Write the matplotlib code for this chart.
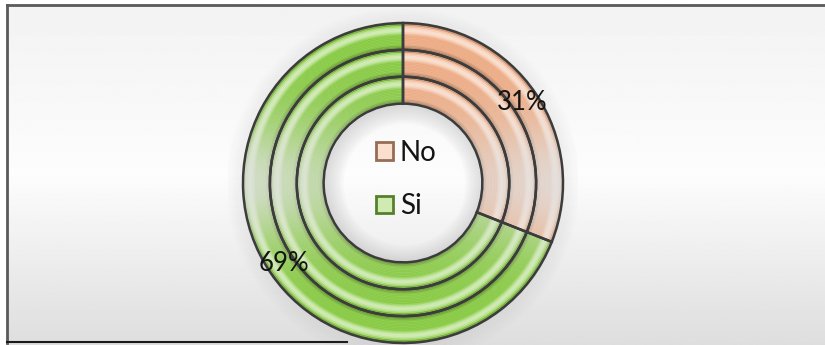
import numpy as np
import matplotlib.pyplot as plt
from matplotlib.patches import Wedge, Patch
from matplotlib.colors import to_rgb

labels = ['No', 'Si']
ring_values = [[31, 69], [31, 69], [31, 69]]   # outer, middle, inner ring
pct_labels = ['31%', '69%']

no_color = '#F2B088'
si_color = '#8CCF46'

W, H = 825, 345
fig = plt.figure(figsize=(W / 100, H / 100), dpi=100)

# background panel with a soft vertical gradient
bg = fig.add_axes([0, 0, 1, 1])
bg.set_xlim(0, W)
bg.set_ylim(H, 0)
bg.axis('off')
yy = np.linspace(0, 1, 200)[:, None]
grad = np.where(yy < 0.5, 0.95 + 0.04 * (yy / 0.5), 0.99 - 0.12 * ((yy - 0.5) / 0.5))
img = np.repeat(grad, 2, axis=1)
bg.imshow(img, cmap='gray', vmin=0, vmax=1, extent=[7, W, H, 5], aspect='auto')
bg.plot([7, W], [5, 5], color='#5a5a5a', lw=2)
bg.plot([7, 7], [5, H - 2], color='#5a5a5a', lw=2)
bg.plot([7, 347], [H - 3, H - 3], color='#1a1a1a', lw=1.5)

# donut axes: 1 data unit = 160 px, centred at (403, 183)
cx, cy, R = 403, 183, 160.0
half = 175
ax = fig.add_axes([(cx - half) / W, (H - cy - half) / H, 2 * half / W, 2 * half / H])

# soft drop shadow around the rings and inside the hole
for k in range(10):
    ax.add_patch(Wedge((0.0, -0.01), 1.0 + 0.012 * k, 0, 360, width=0.02,
                       color='#7a7a7a', alpha=0.07 * (1 - k / 10), lw=0, zorder=0))
    ax.add_patch(Wedge((0.01, -0.01), 0.5, 0, 360, width=0.012 * (k + 1),
                       color='#909090', alpha=0.03, lw=0, zorder=0))


def shade(color, t):
    c = np.array(to_rgb(color))
    if t < 0.1:
        return tuple(c * (0.62 + 0.3 * t / 0.1))
    if t < 0.45:
        m = 0.6 * np.sin(np.pi * (t - 0.1) / 0.35)
        return tuple(c + (1 - c) * m)
    if t < 0.85:
        return tuple(c * 0.98)
    return tuple(c * (0.9 - 0.25 * (t - 0.85) / 0.15))


outer_r = [1.0, 0.832, 0.664]
ring_w = 0.168
layers = 18
for vals, r0 in zip(ring_values, outer_r):
    for k in range(layers):
        t = (k + 0.5) / layers
        ax.pie(vals, radius=r0 - k * ring_w / layers, startangle=90, counterclock=False,
               colors=[shade(no_color, t), shade(si_color, t)],
               wedgeprops=dict(width=ring_w / layers + 0.002, linewidth=0))

# pale reflection across the middle height of the rings
ext = np.linspace(-1.05, 1.05, 300)
gx, gy = np.meshgrid(ext, ext[::-1])
alpha = 0.85 * np.exp(-(gy / 0.4) ** 2) * (0.5 + 0.5 * np.abs(gx))
glow = np.zeros(gx.shape + (4,))
glow[..., :3] = 0.88
glow[..., 3] = alpha
ann = Wedge((0, 0), 1.0, 0, 360, width=0.504, transform=ax.transData)
im = ax.imshow(glow, extent=[-1.05, 1.05, -1.05, 1.05], zorder=3)
im.set_clip_path(ann)
for vals, r0 in zip(ring_values, outer_r):
    ax.pie(vals, radius=r0, startangle=90, counterclock=False,
           wedgeprops=dict(width=ring_w, fill=False, edgecolor='#3c3c3c',
                           linewidth=1.8, zorder=4))

# percentage labels on the outer ring
total = sum(ring_values[0])
start = 90.0
for v, txt in zip(ring_values[0], pct_labels):
    mid = np.deg2rad(start - 360.0 * v / total / 2)
    start -= 360.0 * v / total
    ax.text(0.9 * np.cos(mid), 0.9 * np.sin(mid), txt, ha='center', va='center',
            fontsize=18.5, family='Lato', color='#141414', zorder=6)

handles = [Patch(facecolor=shade(c, 0.3), edgecolor=shade(c, 0.0), linewidth=2)
           for c in (no_color, si_color)]
ax.legend(handles, labels, loc='center', bbox_to_anchor=(0.51, 0.51), frameon=False,
          prop={'family': 'Lato', 'size': 20}, handlelength=0.6, handleheight=0.6,
          handletextpad=0.25, labelspacing=1.0, labelcolor='#141414')

ax.set_xlim(-half / R, half / R)
ax.set_ylim(-half / R, half / R)
ax.set_aspect('equal')
ax.axis('off')

fig.savefig('out.png', dpi=100)
